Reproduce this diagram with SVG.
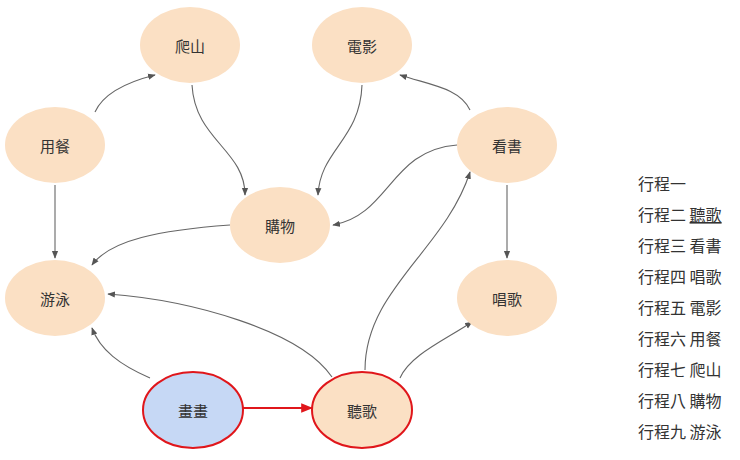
<svg xmlns="http://www.w3.org/2000/svg" width="740" height="460" viewBox="0 0 740 460">
<style>
.n{fill:#fbe0c4;stroke:none}
.t{font-family:"Noto Sans CJK TC","Noto Sans CJK SC",sans-serif;font-size:15px;fill:#333;text-anchor:middle;dominant-baseline:central}
.l{font-family:"Noto Sans CJK TC","Noto Sans CJK SC",sans-serif;font-size:16px;fill:#333}
.e{fill:none;stroke:#666;stroke-width:1.1;marker-end:url(#a)}
</style>
<defs>
<marker id="a" viewBox="0 0 10 10" refX="9" refY="5" markerWidth="7" markerHeight="7" orient="auto"><path d="M0,1L10,5L0,9z" fill="#555"/></marker>
<marker id="r" viewBox="0 0 10 10" refX="9" refY="5" markerWidth="6" markerHeight="6" orient="auto"><path d="M0,1L10,5L0,9z" fill="#e0161b"/></marker>
</defs>
<rect width="740" height="460" fill="#fff"/>
<g id="connectors">
<path class="e" d="M95,112 C105,90 135,80 155,75"/>
<path class="e" d="M192,85 C195,140 245,150 245,195"/>
<path class="e" d="M362,85 C360,140 320,150 318,195"/>
<path class="e" d="M470,110 C460,88 430,85 400,75"/>
<path class="e" d="M457,145 C390,150 390,215 333,225"/>
<path class="e" d="M507,185 L507,258"/>
<path class="e" d="M55,185 L55,258"/>
<path class="e" d="M230,225 C160,230 110,240 92,265"/>
<path class="e" d="M332,377 C300,330 190,300 108,294"/>
<path class="e" d="M150,378 C120,365 100,350 92,328"/>
<path class="e" d="M365,370 C365,290 445,250 470,172"/>
<path class="e" d="M400,378 C410,355 445,340 472,322"/>
<path d="M243,408 L312,408" fill="none" stroke="#e0161b" stroke-width="2" marker-end="url(#r)"/>
</g>
<g id="n1"><ellipse class="n" cx="190" cy="45" rx="50" ry="38"/><text class="t" x="190" y="45">爬山</text></g>
<g id="n2"><ellipse class="n" cx="362" cy="45" rx="50" ry="38"/><text class="t" x="362" y="45">電影</text></g>
<g id="n3"><ellipse class="n" cx="55" cy="145" rx="50" ry="38"/><text class="t" x="55" y="145">用餐</text></g>
<g id="n4"><ellipse class="n" cx="507" cy="145" rx="50" ry="38"/><text class="t" x="507" y="145">看書</text></g>
<g id="n5"><ellipse class="n" cx="280" cy="225" rx="50" ry="38"/><text class="t" x="280" y="225">購物</text></g>
<g id="n6"><ellipse class="n" cx="55" cy="298" rx="50" ry="38"/><text class="t" x="55" y="298">游泳</text></g>
<g id="n7"><ellipse class="n" cx="507" cy="298" rx="50" ry="38"/><text class="t" x="507" y="298">唱歌</text></g>
<g id="n8"><ellipse cx="193" cy="410" rx="50" ry="38" fill="#c6d8f5" stroke="#e0161b" stroke-width="2"/><text class="t" x="193" y="410">畫畫</text></g>
<g id="n9"><ellipse cx="362" cy="410" rx="50" ry="38" fill="#fbe0c4" stroke="#e0161b" stroke-width="2"/><text class="t" x="362" y="410">聽歌</text></g>
<g id="legend">
<text class="l" x="638" y="190">行程一</text>
<text class="l" x="638" y="221">行程二 <tspan text-decoration="underline">聽歌</tspan></text>
<text class="l" x="638" y="252">行程三 看書</text>
<text class="l" x="638" y="283">行程四 唱歌</text>
<text class="l" x="638" y="314">行程五 電影</text>
<text class="l" x="638" y="345">行程六 用餐</text>
<text class="l" x="638" y="376">行程七 爬山</text>
<text class="l" x="638" y="407">行程八 購物</text>
<text class="l" x="638" y="438">行程九 游泳</text>
</g>
</svg>
